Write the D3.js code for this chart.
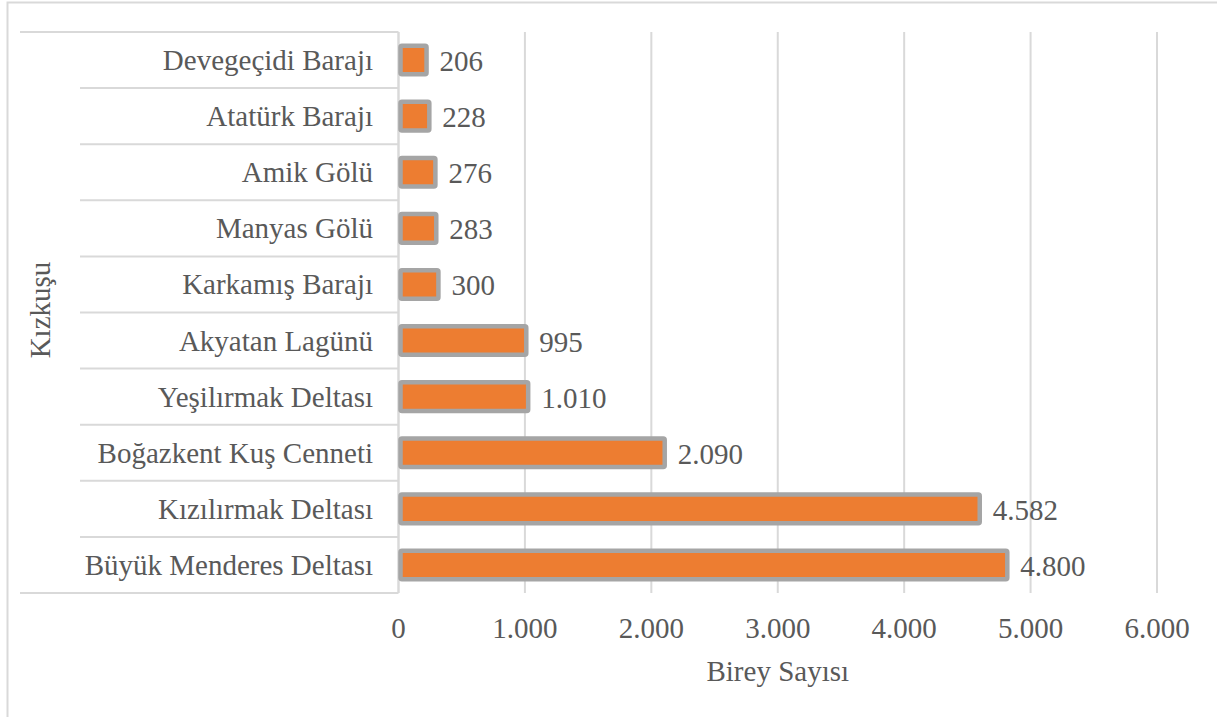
<!DOCTYPE html>
<html>
<head>
<meta charset="utf-8">
<script src="https://cdn.jsdelivr.net/npm/d3@7"></script>
<style>
html,body{margin:0;padding:0;background:#fff;}
svg{display:block;}
text{font-family:"Liberation Serif","Times New Roman",serif;fill:#595959;}
</style>
</head>
<body>
<svg id="chart" width="1217" height="717"></svg>
<script>
const categories = ["Devegeçidi Barajı","Atatürk Barajı","Amik Gölü","Manyas Gölü","Karkamış Barajı","Akyatan Lagünü","Yeşilırmak Deltası","Boğazkent Kuş Cenneti","Kızılırmak Deltası","Büyük Menderes Deltası"];
const values = [206,228,276,283,300,995,1010,2090,4582,4800];
const tickValues = [0,1000,2000,3000,4000,5000,6000];
const groupLabel = "Kızkuşu";
const xTitle = "Birey Sayısı";

const locale = d3.formatLocale({decimal:",", thousands:".", grouping:[3], currency:["",""]});
const fmt = locale.format(",d");

const svg = d3.select("#chart");
const plotTop = 32, plotBottom = 593, plotLeft = 398.5, plotRight = 1157;

const x = d3.scaleLinear().domain([0,6000]).range([plotLeft,plotRight]);
const y = d3.scaleBand().domain(categories).range([plotTop,plotBottom]).paddingInner(0.49).paddingOuter(0.245);

// outer chart border
svg.append("rect").attr("x",7.5).attr("y",2.5).attr("width",1300).attr("height",800)
  .attr("fill","none").attr("stroke","#d9d9d9").attr("stroke-width",2);

// gridlines
svg.append("g").selectAll("line").data(tickValues).join("line")
  .attr("x1",d=>x(d)).attr("x2",d=>x(d)).attr("y1",plotTop).attr("y2",plotBottom)
  .attr("stroke","#d9d9d9").attr("stroke-width",2);

// category separator lines
const step = y.step();
const bounds = d3.range(categories.length+1).map(i => plotTop + i*step);
svg.append("g").selectAll("line").data(bounds).join("line")
  .attr("x1",(d,i)=> (i===0||i===categories.length) ? 20 : 80)
  .attr("x2",plotLeft).attr("y1",d=>d).attr("y2",d=>d)
  .attr("stroke","#d9d9d9").attr("stroke-width",2);

// axis line
svg.append("line").attr("x1",plotLeft).attr("x2",plotLeft).attr("y1",plotTop).attr("y2",plotBottom)
  .attr("stroke","#d9d9d9").attr("stroke-width",2);

// bars
svg.append("g").selectAll("rect").data(values).join("rect")
  .attr("x",x(0)+2)
  .attr("y",(d,i)=>y(categories[i]))
  .attr("width",d=>x(d)-x(0))
  .attr("height",y.bandwidth())
  .attr("fill","#ed7d31").attr("stroke","#a5a5a5").attr("stroke-width",4.5)
  .attr("rx",1.5);

// value labels
svg.append("g").selectAll("text").data(values).join("text")
  .attr("x",d=>x(d)+15)
  .attr("y",(d,i)=>y(categories[i])+y.bandwidth()/2+11)
  .attr("font-size",29)
  .text(d=>fmt(d));

// category labels
svg.append("g").selectAll("text").data(categories).join("text")
  .attr("x",373).attr("y",d=>y(d)+y.bandwidth()/2+10)
  .attr("text-anchor","end").attr("font-size",29)
  .text(d=>d);

// tick labels
svg.append("g").selectAll("text").data(tickValues).join("text")
  .attr("x",d=>x(d)).attr("y",638).attr("text-anchor","middle").attr("font-size",29)
  .text(d=>fmt(d));

// x title
svg.append("text").attr("x",(plotLeft+plotRight)/2).attr("y",681).attr("text-anchor","middle")
  .attr("font-size",29).text(xTitle);

// group label (rotated)
svg.append("text").attr("transform","translate(50,310) rotate(-90)")
  .attr("text-anchor","middle").attr("font-size",29).text(groupLabel);
</script>
</body>
</html>
